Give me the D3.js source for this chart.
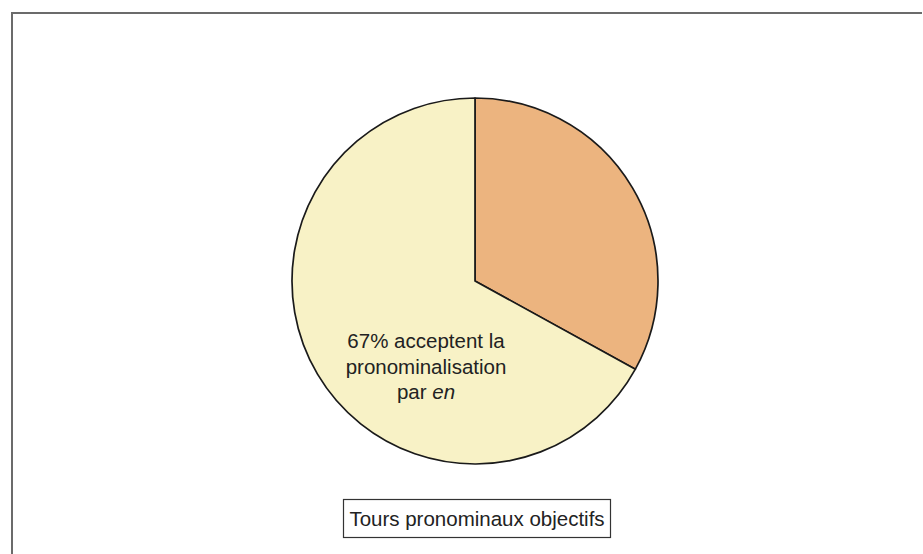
<!DOCTYPE html>
<html>
<head>
<meta charset="utf-8">
<script src="https://cdn.jsdelivr.net/npm/d3@7"></script>
<style>
    body { margin: 0; background: #fff; }
    svg { display: block; font-family: 'Liberation Sans', Arial, sans-serif; }
</style>
</head>
<body>
<svg id="chart" width="923" height="554"></svg>
<script>
//
// DATA
//
const categories = ['refusent', 'acceptent']
const values = [33, 67]
const colors = ['#ecb47f', '#f8f2c6']
const labelLines = ['67% acceptent la', 'pronominalisation']
const labelLast = ['par ', 'en'] // second part in italics
const legendText = 'Tours pronominaux objectifs'

const svg = d3.select('#chart')

// outer frame (only top and left edges are visible)
svg.append('path')
    .attr('d', 'M12,554L12,13L922,13')
    .attr('fill', 'none')
    .attr('stroke', '#6b6b6b')
    .attr('stroke-width', 2)

// the pie
const cx = 475, cy = 281, radius = 183
const pie = d3.pie().sort(null).value(d => d)
const arc = d3.arc().innerRadius(0).outerRadius(radius)
const g = svg.append('g').attr('transform', `translate(${cx},${cy})`)
g.selectAll('path')
    .data(pie(values))
    .enter()
    .append('path')
    .attr('d', arc)
    .attr('fill', (d, i) => colors[i])
    .attr('stroke', '#1a1a1a')
    .attr('stroke-width', 1.7)
    .attr('stroke-linejoin', 'round')

// label inside the big slice
const fontSize = 20.5
const lineH = 25.5
const labelX = 426, labelY = 348
svg.selectAll('text.lbl')
    .data(labelLines)
    .enter()
    .append('text')
    .attr('class', 'lbl')
    .attr('x', labelX)
    .attr('y', (d, i) => labelY + i * lineH)
    .attr('text-anchor', 'middle')
    .attr('font-size', fontSize)
    .attr('fill', '#222')
    .text(d => d)
// last line: "par en" with italic "en"
const last = svg.append('text')
    .attr('x', labelX)
    .attr('y', labelY + labelLines.length * lineH)
    .attr('text-anchor', 'middle')
    .attr('font-size', fontSize)
    .attr('fill', '#222')
last.append('tspan').text(labelLast[0])
last.append('tspan').attr('font-style', 'italic').text(labelLast[1])

// legend box
const legend = svg.append('g')
legend.append('rect')
    .attr('x', 343.5)
    .attr('y', 499.5)
    .attr('width', 267)
    .attr('height', 38)
    .attr('fill', '#fff')
    .attr('stroke', '#333')
    .attr('stroke-width', 1.2)
legend.append('text')
    .attr('x', 477)
    .attr('y', 526)
    .attr('text-anchor', 'middle')
    .attr('font-size', fontSize)
    .attr('fill', '#222')
    .text(legendText)
</script>
</body>
</html>
